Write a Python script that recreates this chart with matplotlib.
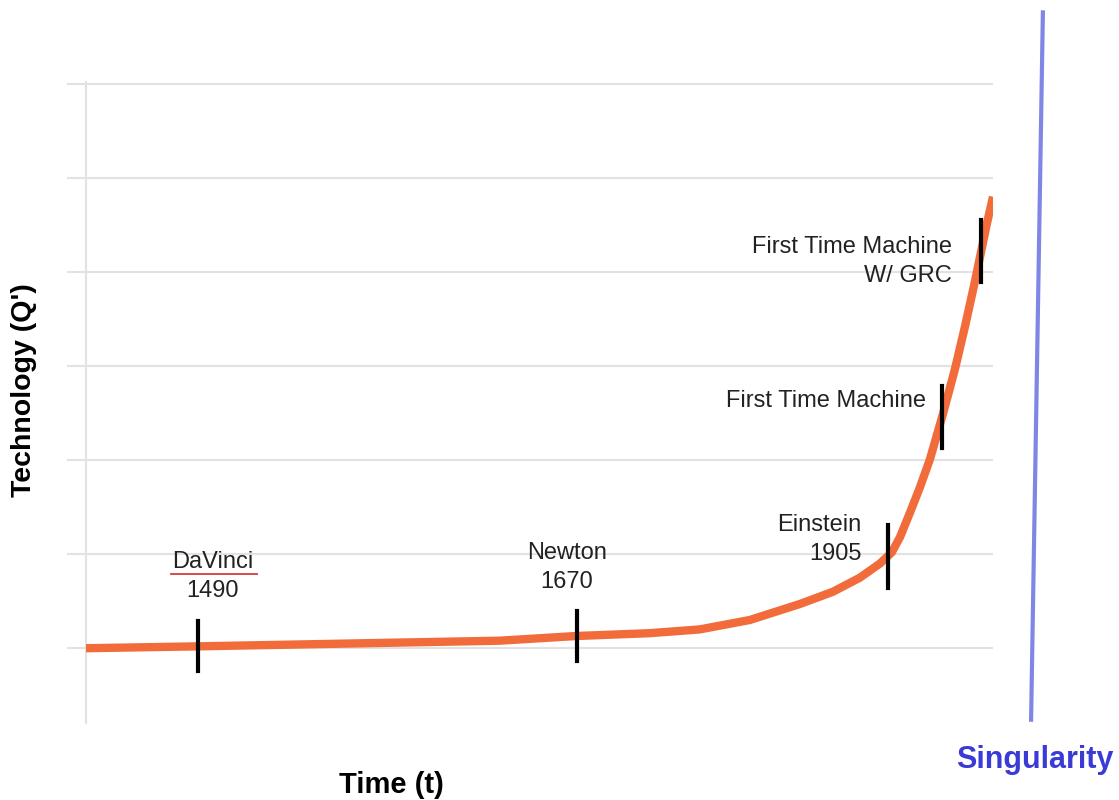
import numpy as np
import matplotlib
matplotlib.use('Agg')
import matplotlib.pyplot as plt

# technology curve (time in arbitrary units 0-100, technology in grid units)
time_pts = [0, 12.36, 23.51, 34.55, 45.58, 54.08, 62.14, 67.66, 73.18, 78.70,
            82.34, 85.32, 87.53, 88.85, 89.74, 90.84, 91.94, 93.05, 94.48,
            95.81, 96.91, 98.01, 99.34, 100]
tech_pts = [0, 0.02, 0.04, 0.06, 0.08, 0.13, 0.16, 0.20, 0.30, 0.47,
            0.60, 0.75, 0.90, 1.02, 1.18, 1.44, 1.71, 2.01, 2.49,
            2.97, 3.42, 3.90, 4.52, 4.80]

# events marked on the curve
event_names = ['DaVinci\n1490', 'Newton\n1670', 'Einstein\n1905',
               'First Time Machine', 'First Time Machine\nW/ GRC']
event_x = [12.4, 54.1, 88.4, 94.4, 98.7]
tick_len = [0.53, 0.53, 0.67, 0.66, 0.66]

grid_levels = [0, 1, 2, 3, 4, 5, 6]

orange = '#f26b3b'
grey = '#e2e2e2'
plt.rcParams['font.family'] = ['Liberation Sans', 'DejaVu Sans']

fig = plt.figure(figsize=(11.19, 8.0), dpi=100)
ax = fig.add_axes([86 / 1119, 77 / 800, 907 / 1119, 641 / 800])
ax.set_xlim(0, 100)
ax.set_ylim(-0.795, 6.02)

# grid and axes styling
ax.set_yticks(grid_levels)
ax.set_yticklabels([])
ax.set_xticks([])
ax.grid(axis='y', color=grey, linewidth=1.5)
ax.tick_params(axis='y', length=14, width=1.5, color=grey)
for s in ['top', 'right', 'bottom']:
    ax.spines[s].set_visible(False)
ax.spines['left'].set_color(grey)
ax.spines['left'].set_linewidth(1.5)

# curve
ax.plot(time_pts, tech_pts, color=orange, linewidth=6, solid_capstyle='butt',
        solid_joinstyle='round', zorder=3)

# event ticks
centers = np.interp(event_x, time_pts, tech_pts)
for x, c, l in zip(event_x, centers, tick_len):
    ax.plot([x, x], [c - l / 2, c + l / 2], color='black', linewidth=3, zorder=4)

# event labels (x, y, ha)
label_pos = [(14.0, 0.76, 'center'), (53.0, 0.86, 'center'), (85.5, 1.16, 'right'),
             (92.6, 2.63, 'right'), (95.5, 4.11, 'right')]
for name, (x, y, ha) in zip(event_names, label_pos):
    ax.text(x, y, name, ha=ha, va='center', multialignment=ha, fontsize=17,
            color='#222222', linespacing=1.42, zorder=5)

# spell-check underline under DaVinci
ax.plot([9.4, 18.9], [0.79, 0.79], color='#d83a3a', linewidth=1.3)

# singularity line
ax.plot([105.5, 104.2], [6.76, -0.76], color='#7f86e6', linewidth=3, clip_on=False)
ax.text(104.6, -1.19, 'Singularity', ha='center', va='center', fontsize=22,
        fontweight='bold', color='#3a3ad6', clip_on=False)

ax.set_xlabel('Time (t)', fontsize=21, fontweight='bold')
ax.set_ylabel('Technology (Q\')', fontsize=20.5, fontweight='bold')
ax.xaxis.set_label_coords(0.337, -0.075)
ax.yaxis.set_label_coords(-0.054, 0.52)

fig.savefig('out.png', dpi=100)
